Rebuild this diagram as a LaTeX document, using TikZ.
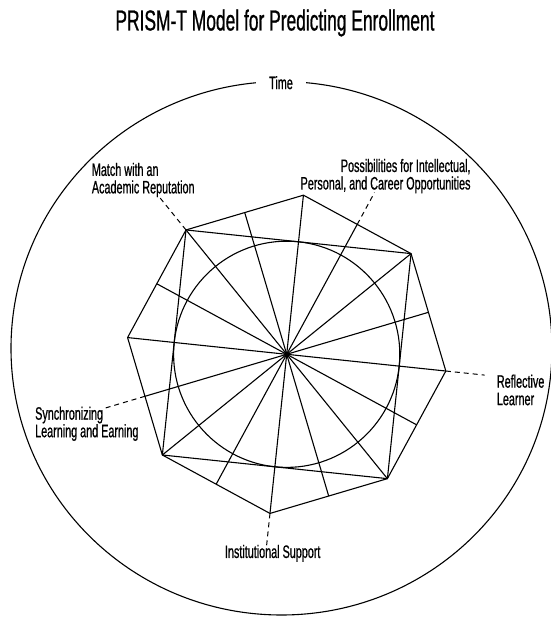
\documentclass[tikz,border=0pt]{standalone}
\usepackage{fontspec}
\setmainfont{Liberation Sans}[FakeStretch=0.6, FakeBold=0.7]
\usetikzlibrary{positioning}
\tikzstyle{link} = [line width=1.1pt, line join=round]
\tikzstyle{dashedLink} = [line width=1pt, dash pattern=on 5pt off 4pt]
\tikzstyle{factorText} = [inner sep=0pt, font=\fontsize{18}{17.5}\selectfont]
\tikzstyle{titleText} = [inner sep=0pt, font=\fontsize{29}{30}\selectfont]
\tikzstyle{solidNode} = [circle, inner sep=0pt, minimum size=5pt, fill=black]
\begin{document}
\begin{tikzpicture}[x=1pt,y=1pt]
\useasboundingbox (-286.7,-262.7) rectangle (263.3,354.3);
\node (title) [titleText] at (-11.7,331.3) {PRISM-T Model for Predicting Enrollment};
\draw [link] (-5.2,6) ellipse [x radius=270.5, y radius=266.7];
\node (time) [factorText, fill=white, inner xsep=13pt, inner ysep=3pt] at (-5.7,271.6) {Time};
\coordinate (c) at (0,0);
\foreach \i in {1,...,8} {
  \coordinate (v\i) at (129-45*\i:160);
  \coordinate (m\i) at (106.5-45*\i:147.8);
}
\draw [link] (v1) -- (v2) -- (v3) -- (v4) -- (v5) -- (v6) -- (v7) -- (v8) -- cycle;
\draw [link] (v2) -- (v4) -- (v6) -- (v8) -- cycle;
\draw [link] (c) circle [radius=113.1];
\foreach \i in {1,...,8} {
  \draw [link] (c) -- (v\i);
  \draw [link] (c) -- (m\i);
}
\node (center) [solidNode] at (c) {};
\coordinate (matchEnd) at (129:202);
\coordinate (possEnd) at (61.5:184);
\coordinate (reflEnd) at (-6:199);
\coordinate (instEnd) at (-96:192);
\coordinate (syncEnd) at (-163.5:190);
\draw [dashedLink] (v8) -- (matchEnd);
\draw [dashedLink] (m1) -- (possEnd);
\draw [dashedLink] (v3) -- (reflEnd);
\draw [dashedLink] (v5) -- (instEnd);
\draw [dashedLink] (m6) -- (syncEnd);
\node (match) [factorText, anchor=west, align=left] at (-195,174.3) {Match with an\\Academic Reputation};
\node (poss) [factorText, anchor=east, align=right] at (184,178.2) {Possibilities for Intellectual,\\Personal, and Career Opportunities};
\node (refl) [factorText, anchor=west, align=left] at (210,-35.7) {Reflective\\Learner};
\node (sync) [factorText, anchor=west, align=left] at (-251.7,-69.5) {Synchronizing\\Learning and Earning};
\node (inst) [factorText] at (-14,-199) {Institutional Support};
\end{tikzpicture}
\end{document}
